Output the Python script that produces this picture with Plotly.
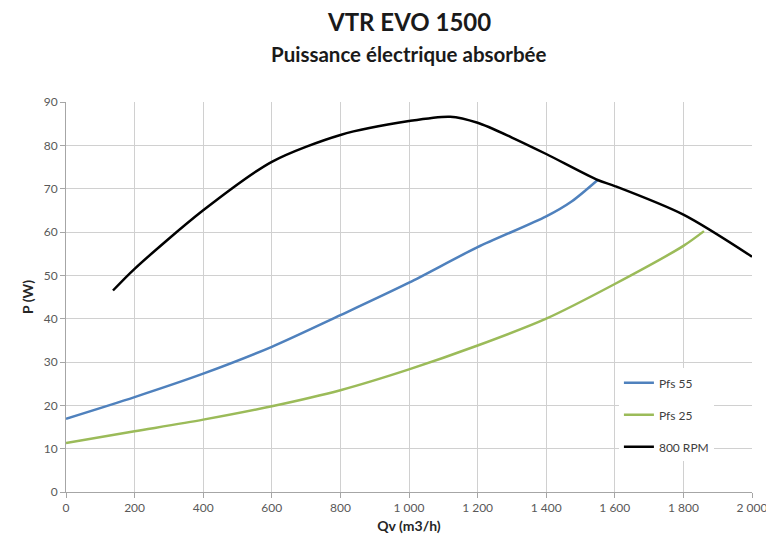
import plotly.graph_objects as go

# Data
qv_pfs55 = [0, 200, 400, 600, 800, 1000, 1200, 1400, 1475, 1550]
p_pfs55 = [16.9, 21.9, 27.3, 33.5, 40.8, 48.3, 56.5, 63.6, 67.1, 72.0]

qv_pfs25 = [0, 200, 400, 600, 800, 1000, 1200, 1400, 1600, 1800, 1860]
p_pfs25 = [11.3, 14.0, 16.7, 19.8, 23.5, 28.3, 33.8, 40.0, 48.0, 56.8, 60.2]

qv_rpm = [137, 200, 400, 600, 800, 1000, 1120, 1200, 1300, 1400, 1550, 1600, 1800, 2000]
p_rpm = [46.5, 51.5, 65.0, 76.2, 82.4, 85.6, 86.6, 85.2, 81.8, 78.0, 72.0, 70.6, 64.0, 54.3]

x_ticks = [0, 200, 400, 600, 800, 1000, 1200, 1400, 1600, 1800, 2000]
y_ticks = [0, 10, 20, 30, 40, 50, 60, 70, 80, 90]

title_text = "VTR EVO 1500"
subtitle_text = "Puissance électrique absorbée"

FONT = "Lato, Carlito, Calibri, 'Open Sans', sans-serif"

fig = go.Figure()
fig.add_trace(go.Scatter(x=qv_pfs55, y=p_pfs55, mode="lines", name="Pfs 55",
                         line=dict(color="#4F81BD", width=2.5, shape="spline", smoothing=0.8),
                         legendgroup="a"))
fig.add_trace(go.Scatter(x=qv_pfs25, y=p_pfs25, mode="lines", name="Pfs 25",
                         line=dict(color="#9BBB59", width=2.5, shape="spline", smoothing=0.8),
                         legendgroup="b"))
fig.add_trace(go.Scatter(x=qv_rpm, y=p_rpm, mode="lines", name="800 RPM",
                         line=dict(color="#000000", width=2.5, shape="spline", smoothing=0.8),
                         legendgroup="c"))

fig.add_annotation(text="<b>" + title_text + "</b>", xref="paper", yref="paper",
                   x=0.5, y=1, yshift=81, xanchor="center", yanchor="middle",
                   showarrow=False, font=dict(family=FONT, size=24, color="#1a1a1a"))
fig.add_annotation(text="<b>" + subtitle_text + "</b>", xref="paper", yref="paper",
                   x=0.5, y=1, yshift=48, xanchor="center", yanchor="middle",
                   showarrow=False, font=dict(family=FONT, size=20.5, color="#1a1a1a"))

fig.update_layout(
    width=766, height=544,
    paper_bgcolor="white", plot_bgcolor="white",
    margin=dict(l=58, r=22, t=94, b=60),
    font=dict(family=FONT, color="#595959", size=12),
    separators=", ",
    xaxis=dict(
        range=[0, 2000], tickvals=x_ticks, tickformat=",d", automargin=False,
        showgrid=True, gridcolor="#D0D0D0", gridwidth=1,
        showline=True, linecolor="#A6A6A6", linewidth=1,
        ticks="outside", ticklen=5, tickcolor="#A6A6A6",
        zeroline=False, mirror=False,
        tickfont=dict(size=12, color="#595959"),
        title=dict(text="<b>Qv (m3/h)</b>", font=dict(size=14, color="#262626"), standoff=6),
    ),
    yaxis=dict(
        range=[0, 90], tickvals=y_ticks, automargin=False,
        showgrid=True, gridcolor="#D0D0D0", gridwidth=1,
        showline=True, linecolor="#A6A6A6", linewidth=1,
        ticks="outside", ticklen=5, tickcolor="#A6A6A6",
        zeroline=False,
        tickfont=dict(size=12, color="#595959"),
        title=dict(text="<b>P (W)</b>", font=dict(size=14, color="#262626"), standoff=6),
    ),
    legend=dict(
        x=0.806, y=0.317, xanchor="left", yanchor="top",
        bgcolor="white", borderwidth=0,
        font=dict(size=12, color="#404040"),
        tracegroupgap=13, traceorder="grouped",
        itemwidth=30,
    ),
)

fig.write_html("out.html")
